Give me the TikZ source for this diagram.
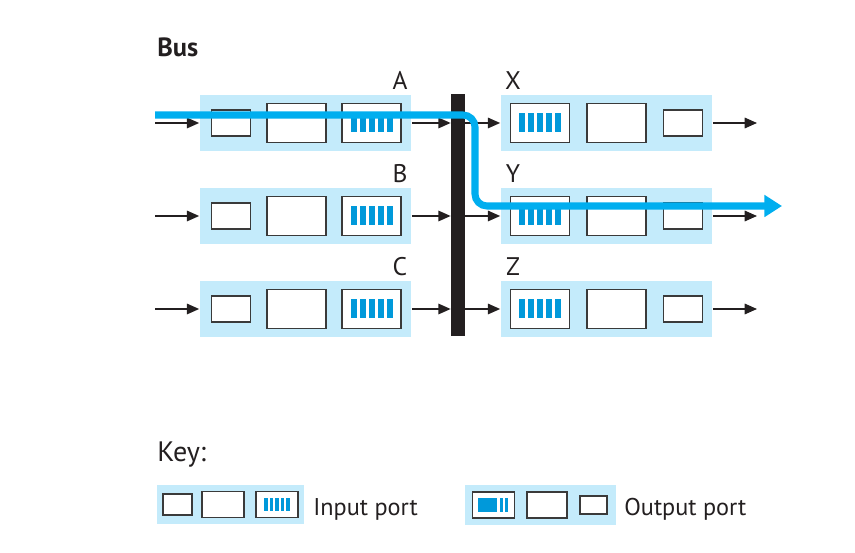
\documentclass[tikz,border=0pt]{standalone}
\usepackage{fontspec}
\setmainfont{PT Sans}
\usepackage{xcolor}
\usetikzlibrary{arrows.meta}
\definecolor{portfill}{HTML}{C4EBFB}
\definecolor{flow}{HTML}{00AEEF}
\definecolor{bar}{HTML}{0099DA}
\definecolor{frame}{HTML}{3A3A3A}
\definecolor{busblack}{HTML}{231F20}
\tikzset{
  port/.style={fill=portfill, inner sep=0pt, minimum width=4.24cm, minimum height=1.12cm},
  cell/.style={draw=frame, fill=white, line width=1.1pt, inner sep=0pt},
  smallcell/.style={cell, minimum width=0.78cm, minimum height=0.52cm},
  bigcell/.style={cell, minimum width=1.18cm, minimum height=0.78cm},
  bufcell/.style={bigcell, path picture={
      \foreach \dx in {-0.36,-0.18,0,0.18,0.36}
        \fill[bar] ([xshift={(\dx-0.06)*1cm}, yshift=-0.19cm]path picture bounding box.center)
          rectangle ++(0.12cm,0.38cm);}},
  keysmall/.style={cell, minimum width=0.58cm, minimum height=0.42cm},
  keybig/.style={cell, minimum width=0.84cm, minimum height=0.52cm},
  keyinbuf/.style={keybig, path picture={
      \foreach \dx in {-0.22,-0.11,0,0.11,0.22}
        \fill[bar] ([xshift={(\dx-0.035)*1cm}, yshift=-0.14cm]path picture bounding box.center)
          rectangle ++(0.07cm,0.28cm);}},
  keyoutbuf/.style={keybig, path picture={
      \fill[bar] ([xshift=-0.32cm, yshift=-0.15cm]path picture bounding box.center) rectangle ++(0.38cm,0.30cm);
      \fill[bar] ([xshift=0.12cm, yshift=-0.15cm]path picture bounding box.center) rectangle ++(0.06cm,0.30cm);
      \fill[bar] ([xshift=0.22cm, yshift=-0.15cm]path picture bounding box.center) rectangle ++(0.06cm,0.30cm);}},
  conn/.style={draw=busblack, line width=0.85pt, -{Triangle[length=7pt, width=6pt]}},
  flowline/.style={draw=flow, line width=4pt, rounded corners=0.24cm, -{Triangle[length=10pt, width=12pt]}},
  lbl/.style={text=busblack, font=\fontsize{14.5}{17}\selectfont, inner sep=0pt},
  keytxt/.style={text=busblack, font=\fontsize{13.8}{16}\selectfont, inner sep=0pt, anchor=base west}
}
\begin{document}
\begin{tikzpicture}[x=0.02cm, y=-0.02cm]
  \useasboundingbox (0,0) rectangle (855,553);

  % bus
  \node[lbl, anchor=base west, font=\bfseries\fontsize{15}{18}\selectfont] (bustxt) at (157,57) {Bus};
  \node[fill=busblack, inner sep=0pt, minimum width=0.28cm, minimum height=4.84cm] (bus) at (458,215) {};

  % input ports
  \foreach \r/\y in {A/123, B/216, C/309} {
    \node[port] (in\r) at (305.5,\y) {};
    \node[smallcell] (in\r s) at (231,\y) {};
    \node[bigcell] (in\r m) at (296.5,\y) {};
    \node[bufcell] (in\r b) at (371.5,\y) {};
    \node[lbl, anchor=base] (lab\r) at (400,\y-33) {\r};
    \coordinate (src\r) at (155,\y);
    \draw[conn] (src\r) -- (in\r.west);
    \draw[conn] (in\r.east) -- (bus.west |- in\r.east);
  }

  % output ports
  \foreach \o/\y in {X/123, Y/216, Z/309} {
    \node[port] (out\o) at (606.5,\y) {};
    \node[bufcell] (out\o b) at (540,\y) {};
    \node[bigcell] (out\o m) at (616.5,\y) {};
    \node[smallcell] (out\o s) at (683,\y) {};
    \node[lbl, anchor=base] (lab\o) at (513,\y-33) {\o};
    \coordinate (snk\o) at (757,\y);
    \draw[conn] (bus.east |- out\o.west) -- (out\o.west);
    \draw[conn] (out\o.east) -- (snk\o);
  }

  % path of a packet from A to Y
  \coordinate (flowin) at (155,115);
  \coordinate (flowout) at (782,206);
  \draw[flowline] (flowin) -- (475,115) -- (475,206) -- (flowout);

  % key
  \node[keytxt, font=\fontsize{16}{19}\selectfont] (keyhead) at (157,461) {Key:};
  \node[port, minimum width=2.94cm, minimum height=0.78cm] (keyin) at (230.5,504.5) {};
  \node[keysmall] (keyins) at (177.5,504.5) {};
  \node[keybig] (keyinm) at (223,504.5) {};
  \node[keyinbuf] (keyinb) at (277,504.5) {};
  \node[keytxt] (keyintxt) at (313,516) {Input port};

  \node[port, minimum width=3.02cm, minimum height=0.8cm] (keyout) at (540.5,505) {};
  \node[keyoutbuf] (keyoutb) at (493.5,505) {};
  \node[keybig, minimum width=0.8cm] (keyoutm) at (547,505) {};
  \node[keysmall, minimum width=0.54cm, minimum height=0.36cm] (keyouts) at (593.5,505) {};
  \node[keytxt] (keyouttxt) at (624,516) {Output port};
\end{tikzpicture}
\end{document}
